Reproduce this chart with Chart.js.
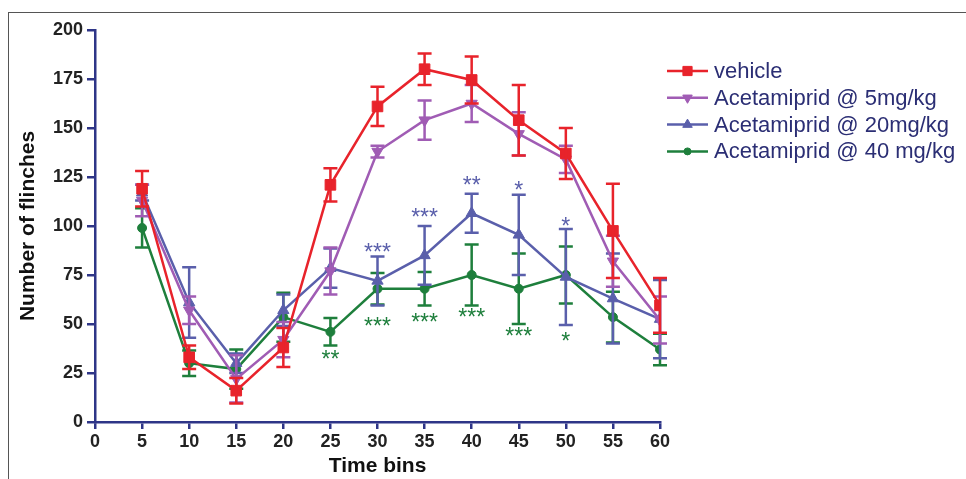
<!DOCTYPE html>
<html>
<head>
<meta charset="utf-8">
<script src="https://cdn.jsdelivr.net/npm/chart.js@4.4.1/dist/chart.umd.min.js"></script>
<style>
  body { margin: 0; background: #fff; }
  #wrap { position: relative; width: 966px; height: 479px; }
  #frame { position: absolute; left: 8px; top: 12px; right: 0; bottom: 0;
           border-top: 1px solid #555; border-left: 1px solid #555; }
  canvas { position: absolute; left: 0; top: 0; }
</style>
</head>
<body>
<div id="wrap">
  <div id="frame"></div>
  <canvas id="chart" width="966" height="479"></canvas>
</div>
<script>
// Time bins (minutes)
const timeBins = [5, 10, 15, 20, 25, 30, 35, 40, 45, 50, 55, 60];

// mean number of flinches and error (SEM) for each group
const vehicleMean = [119, 33, 16, 38, 121, 161, 180, 174.5, 154, 137, 97.5, 59.5];
const vehicleErr  = [9, 6, 6.5, 10, 8.5, 10, 8, 12, 18, 13, 24, 14];

const dose5Mean = [113, 57, 22, 42, 77, 138, 154, 162.5, 147, 134, 82, 52];
const dose5Err  = [8, 7, 12, 9, 12, 3, 10, 9.5, 11, 7, 13, 12];

const dose20Mean = [117, 61, 30, 57, 78.5, 72, 85, 106.5, 95.5, 74, 63, 52.5];
const dose20Err  = [4, 18, 5, 8, 10, 12.5, 15, 10, 20.5, 24.5, 23, 20];

const dose40Mean = [99, 30, 27, 53.5, 46, 68, 68, 75, 68, 75, 53.5, 37];
const dose40Err  = [10, 6.5, 10, 12.5, 7, 8, 8.5, 15.5, 18, 14.5, 13, 8];

// significance marks (x bin, y value where the mark sits, text)
const stars20 = [
    { x: 30, y: 89, text: '***' },
    { x: 35, y: 106.5, text: '***' },
    { x: 40, y: 123, text: '**' },
    { x: 45, y: 120.5, text: '*' },
    { x: 50, y: 102, text: '*' }
];
const stars40 = [
    { x: 25, y: 34, text: '**' },
    { x: 30, y: 51, text: '***' },
    { x: 35, y: 53, text: '***' },
    { x: 40, y: 55.5, text: '***' },
    { x: 45, y: 46, text: '***' },
    { x: 50, y: 43.5, text: '*' }
];

const yTicks = [0, 25, 50, 75, 100, 125, 150, 175, 200];

const axisColor = '#2e3587';
const fontFamily = '"Liberation Sans", Arial, sans-serif';
const colors = {
    vehicle: '#e8232b',
    dose5: '#a05cb4',
    dose20: '#5a5fab',
    dose40: '#1e7f3c'
};

function makeSet(label, means, errs, color, style, radius, rotation) {
    return {
        label: label,
        data: timeBins.map((t, i) => ({ x: t, y: means[i] })),
        errors: errs,
        borderColor: color,
        backgroundColor: color,
        borderWidth: 2.5,
        pointStyle: style,
        pointRadius: radius,
        pointRotation: rotation || 0,
        pointBorderWidth: 1,
        tension: 0
    };
}

// error bars drawn right after each dataset
const errorBars = {
    id: 'errorBars',
    afterDatasetDraw(chart, args) {
        const ds = chart.data.datasets[args.index];
        const ctx = chart.ctx;
        const y = chart.scales.y;
        ctx.save();
        ctx.strokeStyle = ds.borderColor;
        ctx.lineWidth = 2.5;
        args.meta.data.forEach((pt, i) => {
            const v = ds.data[i].y;
            const e = ds.errors[i];
            const top = y.getPixelForValue(v + e);
            const bot = y.getPixelForValue(v - e);
            ctx.beginPath();
            ctx.moveTo(pt.x, top);
            ctx.lineTo(pt.x, bot);
            ctx.moveTo(pt.x - 7, top);
            ctx.lineTo(pt.x + 7, top);
            ctx.moveTo(pt.x - 7, bot);
            ctx.lineTo(pt.x + 7, bot);
            ctx.stroke();
        });
        ctx.restore();
    }
};

// asterisks + legend
const extras = {
    id: 'extras',
    afterDraw(chart) {
        const ctx = chart.ctx;
        const xs = chart.scales.x, ys = chart.scales.y;
        ctx.save();
        ctx.font = '23px ' + fontFamily;
        ctx.textAlign = 'center';
        ctx.textBaseline = 'alphabetic';
        [[stars20, colors.dose20], [stars40, colors.dose40]].forEach(([list, c]) => {
            ctx.fillStyle = c;
            list.forEach(s => {
                ctx.fillText(s.text, xs.getPixelForValue(s.x), ys.getPixelForValue(s.y) + 12);
            });
        });

        // legend
        const lx = 667, ly = 71, gap = 26.8;
        ctx.font = '22px ' + fontFamily;
        ctx.textAlign = 'left';
        ctx.textBaseline = 'middle';
        chart.data.datasets.forEach((ds, i) => {
            const yy = ly + i * gap;
            ctx.strokeStyle = ds.borderColor;
            ctx.lineWidth = 2.5;
            ctx.beginPath();
            ctx.moveTo(lx, yy);
            ctx.lineTo(lx + 41, yy);
            ctx.stroke();
            ctx.fillStyle = ds.backgroundColor;
            ctx.lineWidth = 1;
            Chart.helpers.drawPoint(ctx, {
                pointStyle: ds.pointStyle,
                rotation: ds.pointRotation,
                radius: ds.pointRadius - 1,
                borderWidth: 1
            }, lx + 20.5, yy);
            ctx.fillStyle = '#2b2e74';
            ctx.fillText(ds.label, lx + 47, yy + 1);
        });
        ctx.restore();
    }
};

const tickFont = { family: fontFamily, size: 18, weight: 'bold' };
const titleFont = { family: fontFamily, size: 21, weight: 'bold' };

new Chart(document.getElementById('chart'), {
    type: 'line',
    data: {
        datasets: [
            makeSet('vehicle', vehicleMean, vehicleErr, colors.vehicle, 'rect', 7.5),
            makeSet('Acetamiprid @ 5mg/kg', dose5Mean, dose5Err, colors.dose5, 'triangle', 6.5, 180),
            makeSet('Acetamiprid @ 20mg/kg', dose20Mean, dose20Err, colors.dose20, 'triangle', 6.5),
            makeSet('Acetamiprid @ 40 mg/kg', dose40Mean, dose40Err, colors.dose40, 'circle', 4.5)
        ]
    },
    options: {
        responsive: false,
        animation: false,
        layout: { padding: { left: 12, top: 30, right: 306, bottom: 0 } },
        plugins: {
            legend: { display: false },
            tooltip: { enabled: false }
        },
        scales: {
            x: {
                type: 'linear',
                min: 0,
                max: 60,
                ticks: { stepSize: 5, color: '#222', font: tickFont, padding: 2 },
                grid: { drawOnChartArea: false, drawTicks: true, tickLength: 7, color: axisColor, lineWidth: 2.5 },
                border: { color: axisColor, width: 2.5 },
                title: { display: true, text: 'Time bins', color: '#111', font: titleFont, padding: { top: 4, bottom: 0 } },
                afterFit(scale) { scale.height = 57; }
            },
            y: {
                min: 0,
                max: 200,
                afterBuildTicks(scale) { scale.ticks = yTicks.map(v => ({ value: v })); },
                ticks: { color: '#222', font: tickFont, padding: 4 },
                grid: { drawOnChartArea: false, drawTicks: true, tickLength: 8, color: axisColor, lineWidth: 2.5 },
                border: { color: axisColor, width: 2.5 },
                title: { display: true, text: 'Number of flinches', color: '#111', font: titleFont, padding: { bottom: 8 } },
                afterFit(scale) { scale.width = 83; }
            }
        }
    },
    plugins: [errorBars, extras]
});
</script>
</body>
</html>
